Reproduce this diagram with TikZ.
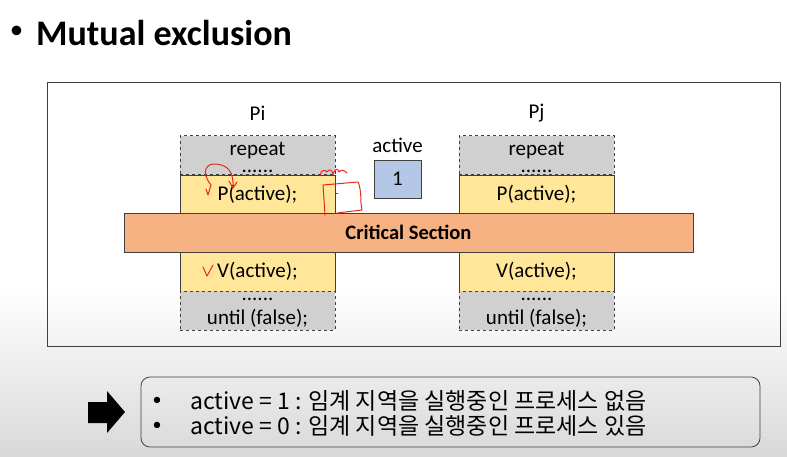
\documentclass[tikz,border=0pt]{standalone}
\usepackage{fontspec}
\setmainfont{Carlito}
\newfontfamily\krfont{Noto Sans CJK KR}
\definecolor{boxgray}{HTML}{D0D0D0}
\definecolor{boxyellow}{HTML}{FFE699}
\definecolor{boxorange}{HTML}{F6B282}
\definecolor{boxblue}{HTML}{B4C7E7}
\definecolor{linegray}{HTML}{404040}
\definecolor{pen}{HTML}{E8281E}
\tikzset{
  grayblock/.style={draw=linegray, dashed, fill=boxgray, minimum width=155pt, minimum height=39pt, inner sep=0pt},
  yellowblock/.style={draw=linegray, fill=boxyellow, minimum width=155pt, minimum height=39pt, inner sep=0pt, font=\fontsize{21}{24}\selectfont},
  critblock/.style={draw=linegray, fill=boxorange, minimum width=569pt, minimum height=39pt, inner sep=0pt, font=\bfseries\fontsize{20.5}{24}\selectfont},
  lbl/.style={font=\fontsize{21}{24}\selectfont, inner sep=0pt},
  baselbl/.style={font=\fontsize{21}{24}\selectfont, inner sep=0pt, anchor=base},
  dotlbl/.style={font=\fontsize{21}{24}\selectfont, inner sep=0pt, anchor=base, text height=2pt, text depth=0pt},
  krtext/.style={font=\krfont\fontsize{23}{26}\selectfont, inner sep=0pt, anchor=base west},
  penline/.style={draw=pen, line width=1pt, line cap=round, line join=round},
}
\begin{document}
\begin{tikzpicture}[x=1pt,y=-1pt]
\useasboundingbox (0,0) rectangle (787,456);
% background
\fill[white] (0,0) rectangle (787,456);
\shade[top color=white, bottom color=black!15] (0,290) rectangle (787,456);
% title
\node[inner sep=0pt, font=\fontsize{27}{30}\selectfont] (tbul) at (16.5,32) {•};
\node[anchor=base west, inner sep=0pt, font=\bfseries\fontsize{36}{40}\selectfont] (title) at (36,45) {Mutual exclusion};
% outer frame
\node[draw=linegray, line width=0.8pt, minimum width=733pt, minimum height=264pt, inner sep=0pt] (frame) at (413.5,214) {};
% process labels
\node[lbl] (pi) at (257.5,113) {Pi};
\node[lbl] (pj) at (536.5,113) {Pj};
% left column
\node[grayblock] (rep1) at (257.5,155) {};
\node[baselbl, text depth=0pt] (rep1a) at (257.5,155) {repeat};
\node[dotlbl] (rep1b) at (257.5,172) {......};
\node[yellowblock] (p1) at (257.5,194.5) {P(active);};
\node[yellowblock] (v1) at (257.5,271.5) {V(active);};
\node[grayblock] (unt1) at (257.5,310.5) {};
\node[dotlbl] (unt1a) at (257.5,300) {......};
\node[baselbl] (unt1b) at (257.5,324) {until (false);};
% right column
\node[grayblock] (rep2) at (536.5,155) {};
\node[baselbl, text depth=0pt] (rep2a) at (536.5,155) {repeat};
\node[dotlbl] (rep2b) at (536.5,172) {......};
\node[yellowblock] (p2) at (536.5,194.5) {P(active);};
\node[yellowblock] (v2) at (536.5,271.5) {V(active);};
\node[grayblock] (unt2) at (536.5,310.5) {};
\node[dotlbl] (unt2a) at (536.5,300) {......};
\node[baselbl] (unt2b) at (536.5,324) {until (false);};
% critical section
\node[critblock] (cs) at (408.5,232.5) {Critical Section};
% semaphore
\node[lbl] (actlbl) at (397.5,145) {active};
\node[draw=linegray, fill=boxblue, minimum width=47pt, minimum height=38pt, inner sep=0pt, font=\fontsize{21}{24}\selectfont] (sem) at (397.5,179) {1};
% handwritten annotations
\draw[penline] (206,189) -- (208,195) -- (211,185) .. controls (200,171) and (207,163) .. (216,164) .. controls (228,165) and (234,172) .. (233,188);
\draw[penline] (229,181) -- (233,188) -- (237,182);
\draw[penline] (320,175) .. controls (321,170) and (325,169) .. (327,172) .. controls (329,168) and (332,170) .. (333,174) .. controls (335,168) and (338,168) .. (339,172) .. controls (341,169) and (344,170) .. (347,173);
\draw[penline] (325,215) -- (323,185) -- (358,182) .. controls (360,185) and (361,195) .. (361,203) -- (362,210) -- (337,213);
\draw[penline] (336,193) -- (338,193);
\draw[penline] (203,267) -- (207,276) -- (213,265);
% bottom summary
\path[fill=black] (88,402) -- (107,402) -- (107,391) -- (125,412) -- (107,433) -- (107,423) -- (88,423) -- cycle;
\node[draw=linegray, line width=0.8pt, rounded corners=9pt, minimum width=619pt, minimum height=70pt, inner sep=0pt] (note) at (450.5,412) {};
\node[inner sep=0pt, font=\fontsize{18}{20}\selectfont] (b1) at (157,401) {•};
\node[inner sep=0pt, font=\fontsize{18}{20}\selectfont] (b2) at (157,426) {•};
\node[krtext] (l1) at (190,409.5) {active = 1 : 임계 지역을 실행중인 프로세스 없음};
\node[krtext] (l2) at (190,434) {active = 0 : 임계 지역을 실행중인 프로세스 있음};
\end{tikzpicture}
\end{document}
